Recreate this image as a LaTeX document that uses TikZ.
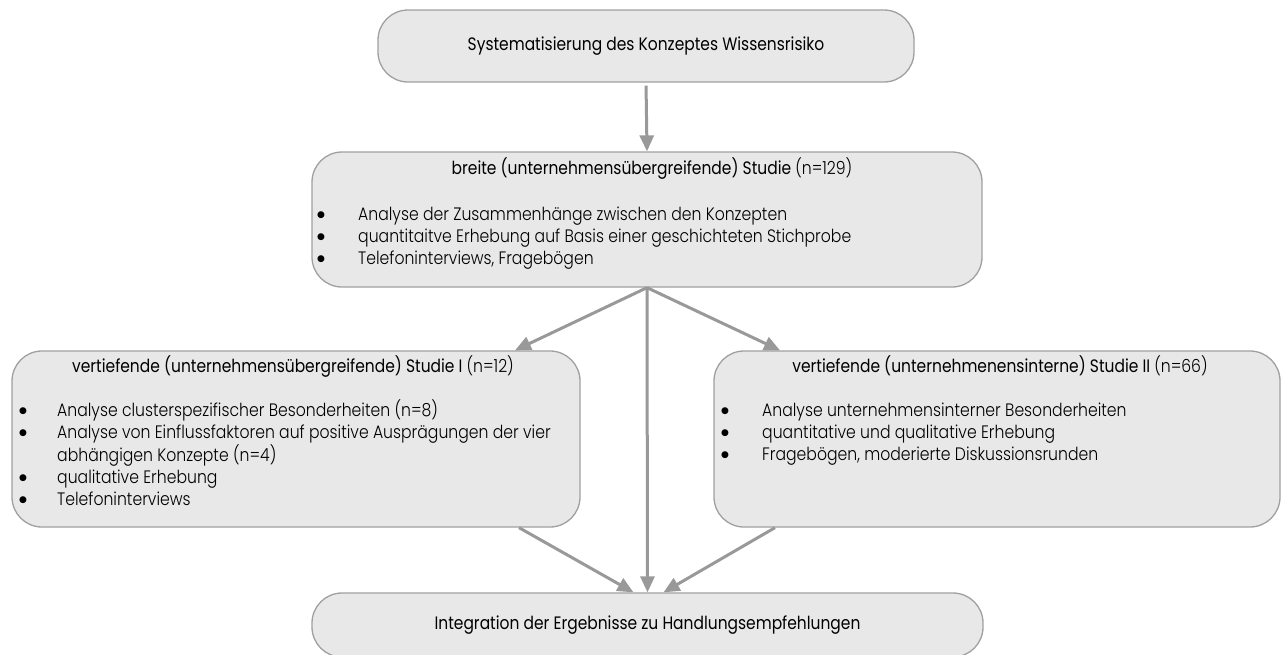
\documentclass[tikz,border=0pt]{standalone}
\usepackage{fontspec}
\setmainfont{Poppins}[FakeStretch=0.86]
\IfFontExistsTF{Poppins Light}
  {\newfontfamily\lightfont{Poppins Light}[FakeStretch=0.87]}
  {\newfontfamily\lightfont{Poppins}[FakeStretch=0.87]}
\newfontfamily\dotfont{DejaVu Sans}
\usetikzlibrary{arrows.meta}
\definecolor{boxfill}{HTML}{E8E8E8}
\definecolor{boxline}{HTML}{A0A0A0}
\definecolor{arrowgray}{HTML}{999999}

\tikzset{
  stage/.style={draw=boxline, line width=1.3pt, fill=boxfill, rounded corners=30pt,
    inner sep=0pt, font=\fontsize{18}{22}\selectfont},
  flow/.style={draw=arrowgray, line width=3pt, -{Triangle[length=16pt,width=14pt]}},
  headtext/.style={inner sep=0pt, font=\fontsize{18}{22}\selectfont},
  listtext/.style={inner sep=0pt, font=\lightfont\fontsize{18}{22}\selectfont, align=left},
}
\newcommand{\dotsign}{\raisebox{2.5pt}{\dotfont\fontsize{9}{9}\selectfont ●}}
\newcommand{\itemrow}[2]{\makebox[#1][l]{\dotsign}&#2}

\begin{document}
\begin{tikzpicture}[x=1pt,y=-1pt]
  \useasboundingbox (0,0) rectangle (1282,654);

  % stages
  \node[stage, minimum width=536pt, minimum height=72pt] (box1) at (646,46)
    {Systematisierung des Konzeptes Wissensrisiko};
  \node[stage, minimum width=670pt, minimum height=135pt] (box2) at (647,219.5) {};
  \node[stage, minimum width=568pt, minimum height=176pt] (box3) at (296,439) {};
  \node[stage, minimum width=566pt, minimum height=176pt] (box4) at (997,439) {};
  \node[stage, minimum width=671pt, minimum height=64pt] (box5) at (647.5,625)
    {Integration der Ergebnisse zu Handlungsempfehlungen};

  % broad study
  \node[headtext, anchor=base] (t2) at (652,174)
    {breite (unternehmensübergreifende) Studie {\lightfont (n=129)}};
  \node[listtext, anchor=base west] (l2) at (317,220)
    {\begin{tabular}[t]{@{}l@{}l@{}}
      \itemrow{41pt}{Analyse der Zusammenhänge zwischen den Konzepten}\\
      \itemrow{41pt}{quantitaitve Erhebung auf Basis einer geschichteten Stichprobe}\\
      \itemrow{41pt}{Telefoninterviews, Fragebögen}
     \end{tabular}};

  % in-depth study I
  \node[headtext, anchor=base] (t3) at (293,372)
    {vertiefende (unternehmensübergreifende) Studie I {\lightfont (n=12)}};
  \node[listtext, anchor=base west] (l3) at (19,416)
    {\begin{tabular}[t]{@{}l@{}l@{}}
      \itemrow{38pt}{Analyse clusterspezifischer Besonderheiten (n=8)}\\
      \itemrow{38pt}{Analyse von Einflussfaktoren auf positive Ausprägungen der vier}\\
      & abhängigen Konzepte (n=4)\\
      \itemrow{38pt}{qualitative Erhebung}\\
      \itemrow{38pt}{Telefoninterviews}
     \end{tabular}};

  % in-depth study II
  \node[headtext, anchor=base] (t4) at (1000,372)
    {vertiefende (unternehmenensinterne) Studie II {\lightfont (n=66)}};
  \node[listtext, anchor=base west] (l4) at (721,416)
    {\begin{tabular}[t]{@{}l@{}l@{}}
      \itemrow{41pt}{Analyse unternehmensinterner Besonderheiten}\\
      \itemrow{41pt}{quantitative und qualitative Erhebung}\\
      \itemrow{41pt}{Fragebögen, moderierte Diskussionsrunden}
     \end{tabular}};

  % connectors
  \draw[flow, shorten <=3pt] (box1.south) -- (box2.north);
  \draw[flow] (box2.south) -- ([xshift=219pt]box3.north);
  \draw[flow] (box2.south) -- ([xshift=-217pt]box4.north);
  \draw[flow] (box2.south) -- (box5.north);
  \draw[flow] ([xshift=223pt]box3.south) -- ([xshift=-14pt]box5.north);
  \draw[flow] ([xshift=-222pt]box4.south) -- ([xshift=16pt]box5.north);
\end{tikzpicture}
\end{document}
